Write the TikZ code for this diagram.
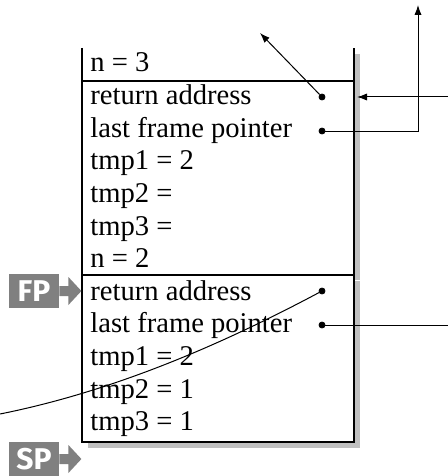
\documentclass[tikz,border=0pt]{standalone}
\usepackage{fontspec}
\setmainfont{Liberation Serif}
\newfontfamily\regfont{Fira Sans}
\usetikzlibrary{arrows.meta}
\usetikzlibrary{calc}
\definecolor{shadowgray}{RGB}{192,192,192}
\definecolor{reggray}{RGB}{128,128,128}

\begin{document}
\begin{tikzpicture}
  [x=0.5pt,y=-0.5pt,>={Latex[length=5pt,width=3.6pt]},
  cell/.style={anchor=base west,inner sep=0pt,font=\fontsize{14.3}{16}\selectfont},
  dot/.style={circle,draw=black,fill=black,inner sep=0pt,minimum size=3pt},
  reg/.style={fill=reggray,text=white,inner sep=0pt,minimum width=25pt,minimum height=17pt,font=\regfont\bfseries\fontsize{15}{15}\selectfont},
  frame/.style={line width=0.6pt},
  sep/.style={line width=1pt},
  link/.style={line width=0.5pt}]
  \useasboundingbox (0,0) rectangle (448,476);

  % shadow of the stack
  \fill[shadowgray] (354,54) rectangle (360,280);
  \fill[shadowgray] (354,281) rectangle (360,448);
  \fill[shadowgray] (88,442) rectangle (360,448);

  \draw[frame] (82,48) -- (82,442) -- (354,442) -- (354,48);
  \draw[sep] (82,81) -- (354,81);
  \draw[sep] (82,275) -- (354,275);

  \node[cell] (n3) at (90,72) {n = 3};
  \node[cell] (ret3) at (90,104.6) {return address};
  \node[cell] (last3) at (90,137.2) {last frame pointer};
  \node[cell] (tmpa3) at (90,169.8) {tmp1 = 2};
  \node[cell] (tmpb3) at (90,202.4) {tmp2 =};
  \node[cell] (tmpc3) at (90,235) {tmp3 =};
  \node[cell] (n2) at (90,267.6) {n = 2};
  \node[cell] (ret2) at (90,300.2) {return address};
  \node[cell] (last2) at (90,332.8) {last frame pointer};
  \node[cell] (tmpa2) at (90,365.4) {tmp1 = 2};
  \node[cell] (tmpb2) at (90,398) {tmp2 = 1};
  \node[cell] (tmpc2) at (90,430.6) {tmp3 = 1};

  \node[dot] (ra3) at (322,97) {};
  \node[dot] (lfp3) at (322,131) {};
  \node[dot] (ra2) at (322,291) {};
  \node[dot] (lfp2) at (322,325) {};

  \coordinate (up3) at (260,33);
  \coordinate (top3) at (418,5);
  \coordinate (inret) at (448,97);
  \coordinate (intip) at (357,97);
  \coordinate (caller) at (0,414);
  \coordinate (next) at (448,325);

  \draw[->,link] (ra3) -- (up3);
  \draw[->,link] (lfp3) -| (top3);
  \draw[->,link] (inret) -- (intip);
  \draw[link] (ra2) .. controls (230,340) and (120,390) .. (caller);
  \draw[link] (lfp2) -- (next);

  % frame and stack pointer
  \node[reg] (fp) at (34,291) {FP};
  \node[reg] (sp) at (34,459) {SP};
  \fill[reggray] ($(fp.east)+(0,-5)$) -- ++(9,0) -- ++(0,-9) -- ++(13,14) -- ++(-13,14) -- ++(0,-9) -- ++(-9,0) -- cycle;
  \fill[reggray] ($(sp.east)+(0,-5)$) -- ++(9,0) -- ++(0,-9) -- ++(13,14) -- ++(-13,14) -- ++(0,-9) -- ++(-9,0) -- cycle;
\end{tikzpicture}
\end{document}
